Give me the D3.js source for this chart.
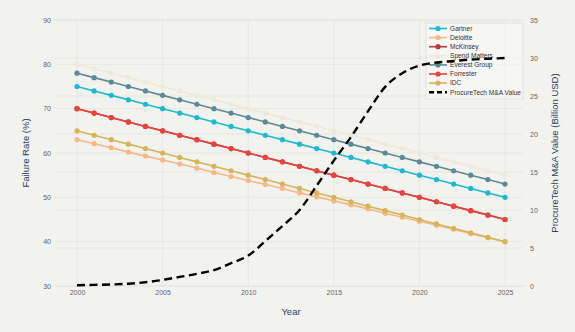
<!DOCTYPE html>
<html>
<head>
<meta charset="utf-8">
<script src="https://cdn.jsdelivr.net/npm/d3@7"></script>
<style>
  body { margin: 0; background: #f2f2ee; }
  svg { display: block; font-family: "Liberation Sans", Arial, sans-serif; }
  .tick text { fill: #666; font-size: 7px; }
  .axis-label { fill: #2a3f5f; font-size: 9.5px; }
  .legend text { fill: #333; font-size: 6.6px; }
</style>
</head>
<body>
<svg width="575" height="332"></svg>
<script>
const years = [2000, 2001, 2002, 2003, 2004, 2005, 2006, 2007, 2008, 2009, 2010, 2011, 2012,
  2013, 2014, 2015, 2016, 2017, 2018, 2019, 2020, 2021, 2022, 2023, 2024, 2025];

const gartner = [75, 74, 73, 72, 71, 70, 69, 68, 67, 66, 65, 64, 63, 62, 61, 60, 59, 58, 57, 56, 55, 54, 53, 52, 51, 50];
const deloitte = [63, 62.1, 61.2, 60.2, 59.3, 58.4, 57.5, 56.6, 55.6, 54.7, 53.8, 52.9, 52, 51, 50.1, 49.2, 48.3, 47.4, 46.4, 45.5, 44.6, 43.7, 42.8, 41.8, 40.9, 40];
const mckinsey = [70, 69, 68, 67, 66, 65, 64, 63, 62, 61, 60, 59, 58, 57, 56, 55, 54, 53, 52, 51, 50, 49, 48, 47, 46, 45];
const spendMatters = [80, 79, 78, 77, 76, 75, 74, 73, 72, 71, 70, 69, 68, 67, 66, 65, 64, 63, 62, 61, 60, 59, 58, 57, 56, 55];
const everest = [78, 77, 76, 75, 74, 73, 72, 71, 70, 69, 68, 67, 66, 65, 64, 63, 62, 61, 60, 59, 58, 57, 56, 55, 54, 53];
const forrester = [70, 69, 68, 67, 66, 65, 64, 63, 62, 61, 60, 59, 58, 57, 56, 55, 54, 53, 52, 51, 50, 49, 48, 47, 46, 45];
const idc = [65, 64, 63, 62, 61, 60, 59, 58, 57, 56, 55, 54, 53, 52, 51, 50, 49, 48, 47, 46, 45, 44, 43, 42, 41, 40];
const maValue = [0.1, 0.15, 0.2, 0.3, 0.5, 0.8, 1.2, 1.6, 2.1, 3, 4, 5.9, 7.9, 10, 13.2, 16.5, 19.6, 23, 26.2, 28, 29, 29.4, 29.6, 29.8, 29.9, 30];

const seriesNames = ['Gartner', 'Deloitte', 'McKinsey', 'Spend Matters', 'Everest Group', 'Forrester', 'IDC'];
const seriesValues = [gartner, deloitte, mckinsey, spendMatters, everest, forrester, idc];
const seriesColors = ['#1cb9cf', '#f7b887', '#b83d3d', '#eeead9', '#5b8a94', '#e8433f', '#d6b45a'];
const maName = 'ProcureTech M&A Value';

const leftTicks = [30, 40, 50, 60, 70, 80, 90];
const rightTicks = [0, 5, 10, 15, 20, 25, 30, 35];
const xTicks = [2000, 2005, 2010, 2015, 2020, 2025];

const svg = d3.select('svg');
const plot = { left: 55, right: 523, top: 20, bottom: 286 };

const xScale = d3.scaleLinear().domain([2000, 2025]).range([77, 505]);
const yLeft = d3.scaleLinear().domain([30, 90]).range([286, 20]);
const yRight = d3.scaleLinear().domain([0, 35]).range([286, 20]);

// grid
const grid = svg.append('g').attr('stroke', '#e4e4de').attr('stroke-width', 0.8);
grid.selectAll('.gx').data(xTicks).join('line')
  .attr('x1', d => xScale(d)).attr('x2', d => xScale(d))
  .attr('y1', plot.top).attr('y2', plot.bottom);
grid.selectAll('.gl').data(leftTicks).join('line')
  .attr('x1', plot.left).attr('x2', plot.right)
  .attr('y1', d => yLeft(d)).attr('y2', d => yLeft(d));
grid.selectAll('.gr').data(rightTicks).join('line')
  .attr('x1', plot.left).attr('x2', plot.right)
  .attr('y1', d => yRight(d)).attr('y2', d => yRight(d));

// axes
const xAxisG = svg.append('g')
  .attr('transform', `translate(0,${plot.bottom})`)
  .call(d3.axisBottom(xScale).tickValues(xTicks).tickFormat(d3.format('d')).tickSize(0).tickPadding(4));
xAxisG.select('.domain').remove();

const yAxisG = svg.append('g')
  .attr('transform', `translate(${plot.left - 1},0)`)
  .call(d3.axisLeft(yLeft).tickValues(leftTicks).tickSize(0).tickPadding(3));
yAxisG.select('.domain').remove();

const yRightG = svg.append('g')
  .attr('transform', `translate(${plot.right + 5},0)`)
  .call(d3.axisRight(yRight).tickValues(rightTicks).tickSize(0).tickPadding(2));
yRightG.select('.domain').remove();

svg.append('text').attr('class', 'axis-label')
  .attr('x', (plot.left + plot.right) / 2 + 2).attr('y', 315)
  .attr('text-anchor', 'middle').text('Year');
svg.append('text').attr('class', 'axis-label')
  .attr('transform', `translate(29,${(plot.top + plot.bottom) / 2}) rotate(-90)`)
  .attr('text-anchor', 'middle').text('Failure Rate (%)');
svg.append('text').attr('class', 'axis-label')
  .attr('transform', `translate(558,${(plot.top + plot.bottom) / 2}) rotate(-90)`)
  .attr('text-anchor', 'middle').text('ProcureTech M&A Value (Billion USD)');

// legend (drawn under the traces)
const legend = svg.append('g').attr('class', 'legend').attr('transform', 'translate(426,23)');
legend.append('rect').attr('width', 97).attr('height', 76)
  .attr('fill', 'rgba(255,255,255,0.35)').attr('stroke', '#dedede').attr('stroke-width', 0.8);
const items = seriesNames.map((n, i) => ({ name: n, color: seriesColors[i], dash: false }))
  .concat([{ name: maName, color: '#000', dash: true }]);
const item = legend.selectAll('.item').data(items).join('g')
  .attr('transform', (d, i) => `translate(3,${5.5 + i * 9.1})`);
item.append('line').attr('x1', 0).attr('x2', 18)
  .attr('stroke', d => d.color)
  .attr('stroke-width', d => d.dash ? 2.5 : 1.6)
  .attr('stroke-dasharray', d => d.dash ? '5,3' : null);
item.filter(d => !d.dash).append('circle').attr('cx', 9).attr('r', 2.6).attr('fill', d => d.color);
item.append('text').attr('x', 21).attr('dy', '0.35em').text(d => d.name);

// failure rate lines
const lineGen = d3.line().x((d, i) => xScale(years[i])).y(d => yLeft(d));
seriesValues.forEach((vals, k) => {
  const g = svg.append('g');
  g.append('path').attr('d', lineGen(vals))
    .attr('fill', 'none').attr('stroke', seriesColors[k]).attr('stroke-width', 1.6);
  g.selectAll('circle').data(vals).join('circle')
    .attr('cx', (d, i) => xScale(years[i])).attr('cy', d => yLeft(d))
    .attr('r', 2.6).attr('fill', seriesColors[k]);
});

// M&A value line
const maLine = d3.line().x((d, i) => xScale(years[i])).y(d => yRight(d)).curve(d3.curveMonotoneX);
svg.append('path').attr('d', maLine(maValue))
  .attr('fill', 'none').attr('stroke', '#000').attr('stroke-width', 2.4)
  .attr('stroke-dasharray', '8,4.5');
</script>
</body>
</html>
